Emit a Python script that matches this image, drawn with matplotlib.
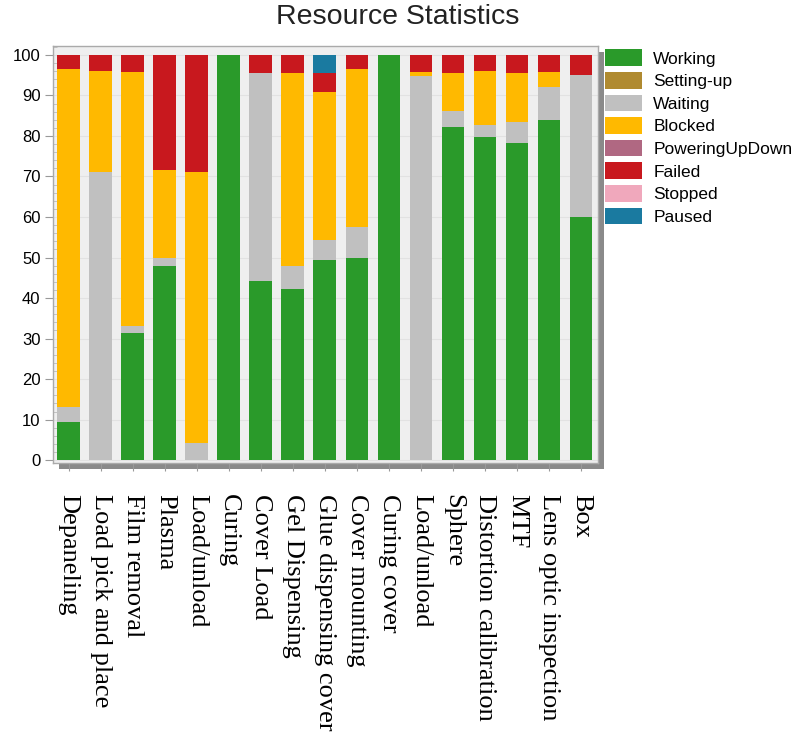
import numpy as np
import matplotlib.pyplot as plt
from matplotlib.patches import Rectangle
from matplotlib.ticker import MultipleLocator

plt.rcParams['font.family'] = ['Liberation Sans', 'DejaVu Sans']

resources = ["Depaneling", "Load pick and place", "Film removal", "Plasma", "Load/unload",
             "Curing", "Cover Load", "Gel Dispensing", "Glue dispensing cover", "Cover mounting",
             "Curing cover", "Load/unload", "Sphere", "Distortion calibration", "MTF",
             "Lens optic inspection", "Box"]

states = ["Working", "Setting-up", "Waiting", "Blocked", "PoweringUpDown", "Failed", "Stopped", "Paused"]
state_colors = ["#2a9a2a", "#b08a30", "#c0c0c0", "#ffb900", "#b06882", "#c8181e", "#f0a8bc", "#1a7aa0"]

# percentage of time in each state
working = [9.5, 0, 31.3, 47.9, 0, 100, 44.2, 42.2, 49.5, 49.8, 100, 0, 82.1, 79.8, 78.2, 84.0, 60.1]
setting_up = [0] * 17
waiting = [3.7, 71.2, 1.8, 2.1, 4.3, 0, 51.4, 5.7, 4.8, 7.8, 0, 94.8, 4.0, 2.9, 5.3, 8.0, 35.0]
blocked = [83.3, 24.9, 62.6, 21.6, 66.9, 0, 0, 47.6, 36.5, 38.9, 0, 0.9, 9.4, 13.4, 12.0, 3.7, 0]
powering = [0] * 17
failed = [3.5, 3.9, 4.3, 28.4, 28.8, 0, 4.4, 4.5, 4.8, 3.5, 0, 4.3, 4.5, 3.9, 4.5, 4.3, 4.9]
stopped = [0] * 17
paused = [0, 0, 0, 0, 0, 0, 0, 0, 4.4, 0, 0, 0, 0, 0, 0, 0, 0]

series = [working, setting_up, waiting, blocked, powering, failed, stopped, paused]

fig = plt.figure(figsize=(7.97, 7.36), dpi=100)
ax = fig.add_axes([53 / 797, 1 - 463 / 736, 545 / 797, 417 / 736])
ax.set_zorder(2)

# drop shadow behind the plot frame
fig.patches.append(Rectangle((59 / 797, 1 - 469 / 736), 545 / 797, 417 / 736,
                             transform=fig.transFigure, facecolor="#8a8a8a",
                             edgecolor="none", zorder=1))

ax.set_facecolor("#efefef")
x = np.arange(len(resources))
bottom = np.zeros(len(resources))
for name, vals, col in zip(states, series, state_colors):
    vals = np.array(vals, dtype=float)
    ax.bar(x, vals, width=0.71, bottom=bottom, color=col, label=name, zorder=3)
    bottom += vals

ax.set_xlim(-0.49, 16.53)
ax.set_ylim(-0.7, 102.2)
ax.yaxis.set_major_locator(MultipleLocator(10))
ax.yaxis.set_minor_locator(MultipleLocator(2))
ax.grid(axis="y", color="#e2e2e2", linewidth=0.8, zorder=1)
ax.tick_params(axis="y", which="major", direction="out", length=6, color="#999999",
               labelsize=12, pad=3)
ax.tick_params(axis="y", which="minor", direction="in", length=3, color="#bbbbbb")
for s in ax.spines.values():
    s.set_color("#aaaaaa")
    s.set_linewidth(1)

ax.set_xticks(x)
ax.set_xticklabels(resources, rotation=270, fontsize=19, family="Liberation Serif",
                   va="top", ha="center")
ax.tick_params(axis="x", direction="out", length=6, color="#999999", pad=16.5)

ax.legend(loc="upper left", bbox_to_anchor=(1.012, 0.992), frameon=False,
          fontsize=12.5, handlelength=2.15, handleheight=1.1, handletextpad=0.65,
          labelspacing=0.31, borderaxespad=0.0, borderpad=0.0)

fig.suptitle("Resource Statistics", x=398 / 797, y=1 - 4 / 736, va="top",
             fontsize=20.5, color="#222222")

fig.savefig("out.png", dpi=100)
